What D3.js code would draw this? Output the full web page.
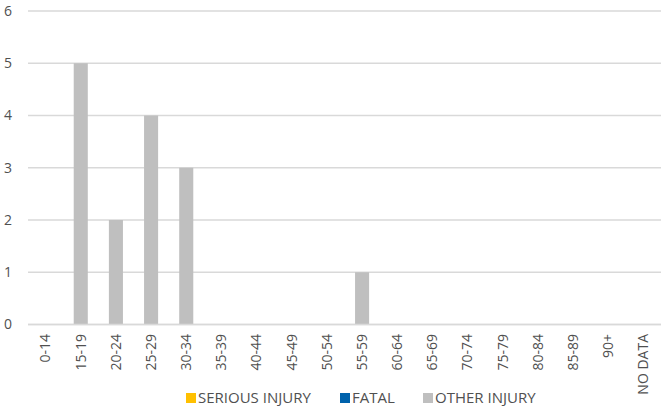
<!DOCTYPE html>
<html>
<head>
<meta charset="utf-8">
<script src="https://cdn.jsdelivr.net/npm/d3@7"></script>
<style>
  body { margin: 0; background: #fff; }
  text { font-family: "Open Sans", sans-serif; fill: #505050; }
</style>
</head>
<body>
<div id="chart"></div>
<script>
const ageGroups = ["0-14", "15-19", "20-24", "25-29", "30-34", "35-39", "40-44", "45-49", "50-54",
  "55-59", "60-64", "65-69", "70-74", "75-79", "80-84", "85-89", "90+", "NO DATA"];
const seriousInjury = [0, 0, 0, 0, 0, 0, 0, 0, 0, 0, 0, 0, 0, 0, 0, 0, 0, 0];
const fatal = [0, 0, 0, 0, 0, 0, 0, 0, 0, 0, 0, 0, 0, 0, 0, 0, 0, 0];
const otherInjury = [0, 5, 2, 4, 3, 0, 0, 0, 0, 1, 0, 0, 0, 0, 0, 0, 0, 0];
const yTicks = [0, 1, 2, 3, 4, 5, 6];
const seriesNames = ["SERIOUS INJURY", "FATAL", "OTHER INJURY"];
const seriesColors = ["#ffc000", "#0062ac", "#bfbfbf"];

const width = 662, height = 406;
const area = { left: 28, right: 661, top: 11, bottom: 324.5 };

const svg = d3.select("#chart").append("svg")
  .attr("width", width)
  .attr("height", height);

const x = d3.scaleBand()
  .domain(ageGroups)
  .range([area.left, area.right])
  .paddingInner(0.6)
  .paddingOuter(0.3);

const y = d3.scaleLinear()
  .domain([0, 6])
  .range([area.bottom, area.top]);

// gridlines
svg.append("g")
  .selectAll("line")
  .data(yTicks)
  .join("line")
  .attr("x1", area.left)
  .attr("x2", area.right)
  .attr("y1", d => y(d))
  .attr("y2", d => y(d))
  .attr("stroke", "#d9d9d9")
  .attr("stroke-width", 1.3);

// y labels
svg.append("g")
  .selectAll("text")
  .data(yTicks)
  .join("text")
  .attr("x", 12)
  .attr("y", d => y(d))
  .attr("dy", "0.35em")
  .attr("text-anchor", "end")
  .style("font-size", "14px")
  .text(d => d);

// stacked bars
const rows = ageGroups.map((g, i) => ({ group: g, s: seriousInjury[i], f: fatal[i], o: otherInjury[i] }));
const stacked = d3.stack().keys(["s", "f", "o"])(rows);

svg.append("g")
  .selectAll("g")
  .data(stacked)
  .join("g")
  .attr("fill", (d, i) => seriesColors[i])
  .selectAll("rect")
  .data(d => d)
  .join("rect")
  .attr("x", d => x(d.data.group))
  .attr("width", x.bandwidth())
  .attr("y", d => y(d[1]))
  .attr("height", d => y(d[0]) - y(d[1]));

// axis baseline on top of bars
svg.append("line")
  .attr("x1", area.left).attr("x2", area.right)
  .attr("y1", y(0)).attr("y2", y(0))
  .attr("stroke", "#d9d9d9").attr("stroke-width", 1.3);

// x labels
svg.append("g")
  .selectAll("text")
  .data(ageGroups)
  .join("text")
  .attr("transform", d => `translate(${x(d) + x.bandwidth() / 2},334) rotate(-90)`)
  .attr("dy", "0.35em")
  .attr("text-anchor", "end")
  .style("font-size", "14px")
  .text(d => d);

// legend
const legendX = [186, 340, 423];
const legend = svg.append("g")
  .selectAll("g")
  .data(seriesNames)
  .join("g")
  .attr("transform", (d, i) => `translate(${legendX[i]},393)`);

legend.append("rect")
  .attr("width", 10)
  .attr("height", 10)
  .attr("fill", (d, i) => seriesColors[i]);

legend.append("text")
  .attr("x", 12)
  .attr("y", 5)
  .attr("dy", "0.35em")
  .style("font-size", "15px")
  .text(d => d);
</script>
</body>
</html>
